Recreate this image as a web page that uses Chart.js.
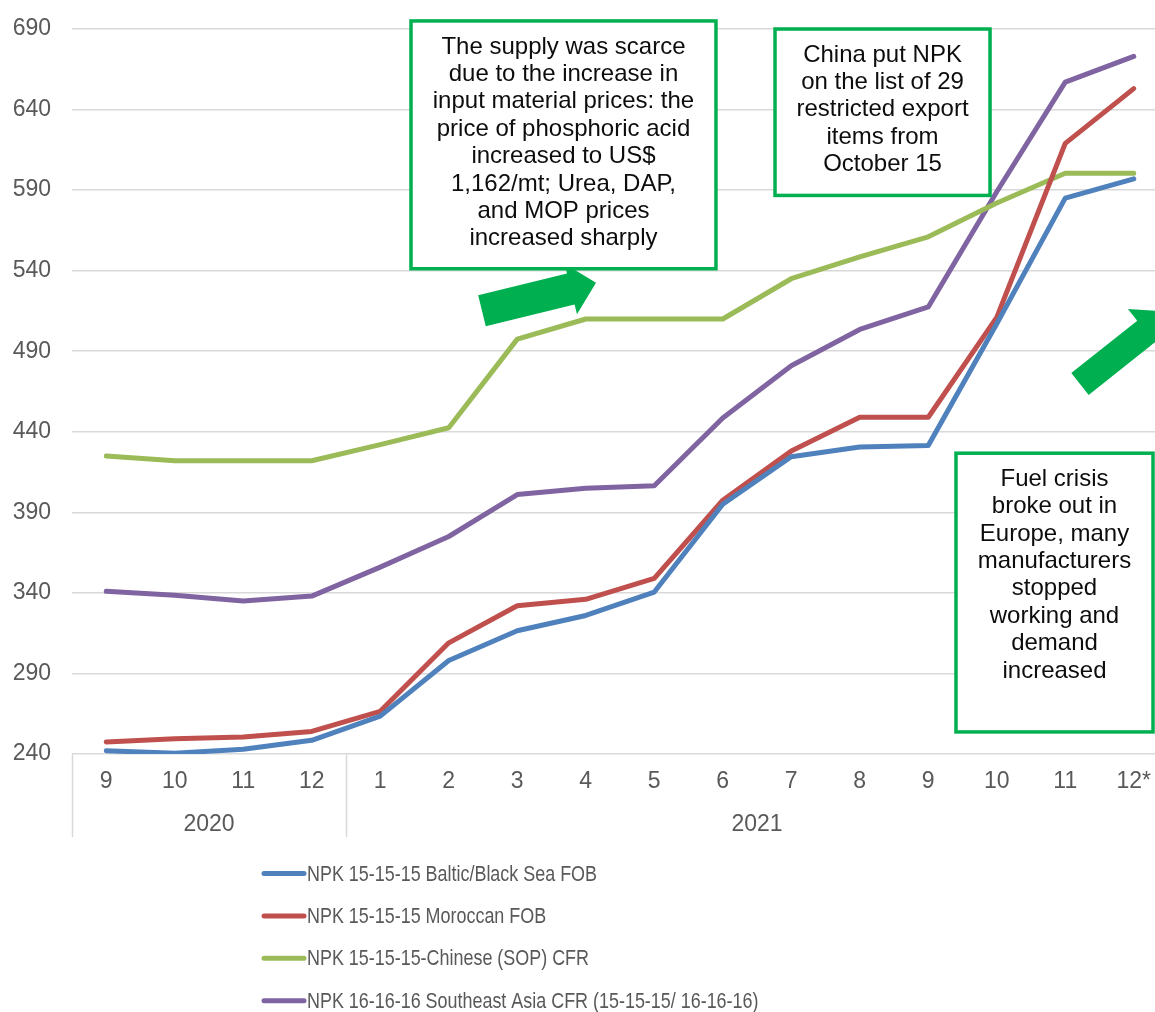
<!DOCTYPE html>
<html><head><meta charset="utf-8">
<script src="https://cdn.jsdelivr.net/npm/chart.js@4/dist/chart.umd.min.js"></script>
<style>html,body{margin:0;padding:0;overflow:hidden;background:#fff;}canvas{display:block;}</style>
</head><body>
<canvas id="c" width="1180" height="1012"></canvas>
<script>
// ---- data ----
const months = ['9','10','11','12','1','2','3','4','5','6','7','8','9','10','11','12*'];
const yearGroups = ['2020','2021'];
const yearStart = [0, 4];
const yearEnd = [3, 15];
const seriesNames = [
  'NPK 15-15-15 Baltic/Black Sea FOB',
  'NPK 15-15-15 Moroccan FOB',
  'NPK 15-15-15-Chinese (SOP) CFR',
  'NPK 16-16-16 Southeast Asia CFR (15-15-15/ 16-16-16)'
];
const baltic   = [242,240.5,243,248.5,263.5,298,316.5,326,340.5,395,424.5,430.5,431.5,507,585,597];
const moroccan = [247.5,249.5,250.5,254,266.5,309,332,336,349,397.5,428,449,449,511,619,653];
const chinese  = [425,422,422,422,432,442.5,497.5,510,510,510,535,548.5,561,582,600.5,600.5];
const seAsia   = [341,338.5,335,338,356,375,401,405,406.5,448.5,481,503.5,517.5,589,657,673];
const yMin = 240, yMax = 690, yStep = 50;
const colors = ['#4F81BD','#C0504D','#9BBB59','#8064A2'];

// annotation notes (text) and their anchors in data units
const note1 = ['The supply was scarce','due to the increase in','input material prices: the','price of phosphoric acid','increased to US$','1,162/mt; Urea, DAP,','and MOP prices','increased sharply'];
const note2 = ['China put NPK','on the list of 29','restricted export','items from','October 15'];
const note3 = ['Fuel crisis','broke out in','Europe, many','manufacturers','stopped','working and','demand','increased'];
const boxes = [
  {lines: note1, x0: 4.449, x1: 8.901, y0: 695.0, y1: 541.2},
  {lines: note2, x0: 9.763, x1: 12.902, y0: 690.0, y1: 586.7},
  {lines: note3, x0: 12.405, x1: 15.281, y0: 426.7, y1: 253.7}
];
const arrows = [
  {tx: 5.485, ty: 515.1, px: 7.150, py: 532.5, w: 32, hw: 52, hl: 26},
  {tx: 14.215, ty: 469.7, px: 15.544, py: 514.5, w: 28, hw: 58, hl: 32}
];

const FONT = '"Liberation Sans", Arial, sans-serif';
const GREEN = '#00B050';
const AXIS_TXT = '#595959';
const SEP = '#d9d9d9';

const overlay = {
  id: 'overlay',
  afterDatasetsDraw(chart) {
    const ctx = chart.ctx, xs = chart.scales.x, ys = chart.scales.y;
    ctx.save();
    ctx.fillStyle = GREEN;
    arrows.forEach(a => {
      const T = {x: xs.getPixelForValue(a.tx), y: ys.getPixelForValue(a.ty)};
      const P = {x: xs.getPixelForValue(a.px), y: ys.getPixelForValue(a.py)};
      const len = Math.hypot(P.x - T.x, P.y - T.y);
      const d = {x: (P.x - T.x) / len, y: (P.y - T.y) / len};
      const n = {x: -d.y, y: d.x};
      const B = {x: P.x - d.x * a.hl, y: P.y - d.y * a.hl};
      const pts = [
        [T.x + n.x * a.w / 2, T.y + n.y * a.w / 2],
        [B.x + n.x * a.w / 2, B.y + n.y * a.w / 2],
        [B.x + n.x * a.hw / 2, B.y + n.y * a.hw / 2],
        [P.x, P.y],
        [B.x - n.x * a.hw / 2, B.y - n.y * a.hw / 2],
        [B.x - n.x * a.w / 2, B.y - n.y * a.w / 2],
        [T.x - n.x * a.w / 2, T.y - n.y * a.w / 2]
      ];
      ctx.beginPath();
      pts.forEach((p, i) => i ? ctx.lineTo(p[0], p[1]) : ctx.moveTo(p[0], p[1]));
      ctx.closePath();
      ctx.fill();
    });
    boxes.forEach(b => {
      const x0 = xs.getPixelForValue(b.x0), x1 = xs.getPixelForValue(b.x1);
      const y0 = ys.getPixelForValue(b.y0), y1 = ys.getPixelForValue(b.y1);
      ctx.fillStyle = '#ffffff';
      ctx.fillRect(x0, y0, x1 - x0, y1 - y0);
      ctx.strokeStyle = GREEN;
      ctx.lineWidth = 3.5;
      ctx.strokeRect(x0, y0, x1 - x0, y1 - y0);
      ctx.fillStyle = '#0d0d0d';
      ctx.font = '24px ' + FONT;
      ctx.textAlign = 'center';
      ctx.textBaseline = 'middle';
      const cx = (x0 + x1) / 2;
      b.lines.forEach((t, i) => ctx.fillText(t, cx, y0 + 26 + i * 27.4));
    });
    ctx.restore();
  },
  afterDraw(chart) {
    const ctx = chart.ctx, xs = chart.scales.x, ca = chart.chartArea;
    ctx.save();
    ctx.strokeStyle = SEP;
    ctx.lineWidth = 1.5;
    const sepX = [ca.left];
    for (let g = 1; g < yearGroups.length; g++) sepX.push((xs.getPixelForValue(yearEnd[g-1]) + xs.getPixelForValue(yearStart[g])) / 2);
    sepX.push(ca.right);
    sepX.forEach(x => { ctx.beginPath(); ctx.moveTo(Math.round(x) + 0.5, ca.bottom); ctx.lineTo(Math.round(x) + 0.5, ca.bottom + 83); ctx.stroke(); });
    ctx.fillStyle = AXIS_TXT;
    ctx.font = '23px ' + FONT;
    ctx.textAlign = 'center';
    ctx.textBaseline = 'middle';
    yearGroups.forEach((y, g) => {
      const cx = (xs.getPixelForValue(yearStart[g]) + xs.getPixelForValue(yearEnd[g])) / 2;
      ctx.fillText(y, cx, ca.bottom + 71);
    });
    const lx0 = 264, lx1 = 304, tx = 307;
    chart.data.datasets.forEach((ds, i) => {
      const y = ca.bottom + 119.5 + i * 42.4;
      ctx.strokeStyle = ds.borderColor;
      ctx.lineWidth = 5;
      ctx.lineCap = 'round';
      ctx.beginPath(); ctx.moveTo(lx0, y); ctx.lineTo(lx1, y); ctx.stroke();
      ctx.save();
      ctx.translate(tx, y);
      ctx.scale(0.815, 1);
      ctx.fillStyle = AXIS_TXT;
      ctx.font = '22px ' + FONT;
      ctx.textAlign = 'left';
      ctx.textBaseline = 'middle';
      ctx.fillText(ds.label, 0, 1);
      ctx.restore();
    });
    ctx.restore();
  }
};

const seriesData = [baltic, moroccan, chinese, seAsia];
new Chart(document.getElementById('c'), {
  type: 'line',
  data: {
    labels: months,
    datasets: seriesData.map((d, i) => ({
      label: seriesNames[i], data: d, borderColor: colors[i], backgroundColor: colors[i],
      borderWidth: 5, pointRadius: 0, pointHoverRadius: 0, tension: 0, borderJoinStyle: 'round', borderCapStyle: 'round', fill: false
    }))
  },
  options: {
    responsive: false, animation: false, devicePixelRatio: 1,
    layout: {autoPadding: false, padding: {top: 29, right: 12, bottom: 170, left: 0}},
    plugins: {legend: {display: false}, tooltip: {enabled: false}},
    scales: {
      x: {
        type: 'category', offset: true,
        grid: {display: false, drawTicks: false},
        border: {display: false},
        ticks: {color: AXIS_TXT, font: {family: FONT, size: 23}, padding: 14, maxRotation: 0, autoSkip: false},
        afterFit(s) { s.height = 88; }
      },
      y: {
        min: yMin, max: yMax,
        grid: {color: SEP, lineWidth: 1.5, drawTicks: false},
        border: {display: false},
        ticks: {stepSize: yStep, color: AXIS_TXT, font: {family: FONT, size: 23}, padding: 21},
        afterFit(s) { s.width = 72; s.paddingTop = 14; s.paddingBottom = 14; }
      }
    }
  },
  plugins: [overlay]
});
</script>
</body></html>
